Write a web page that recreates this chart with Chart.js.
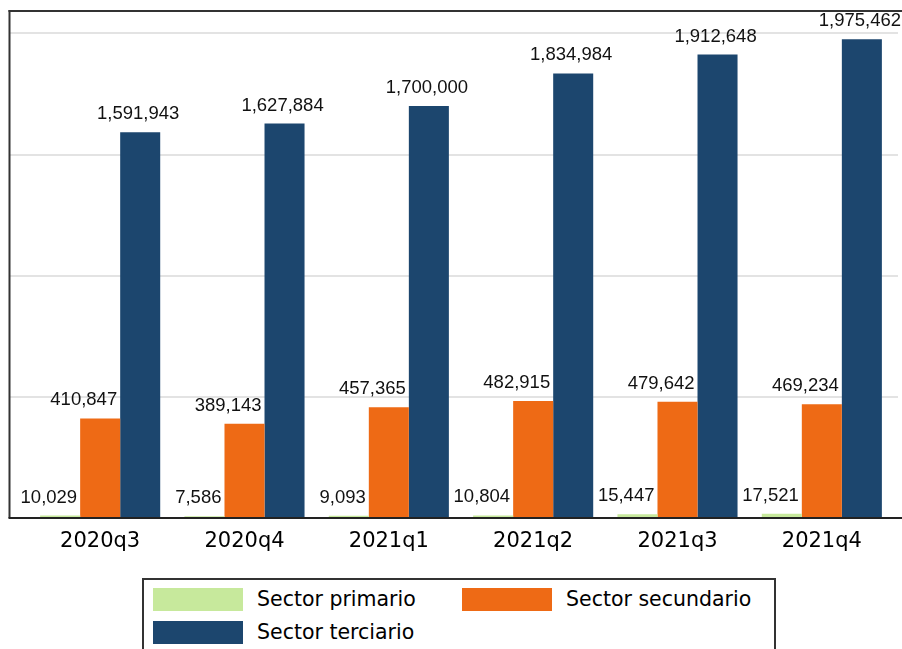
<!DOCTYPE html>
<html>
<head>
<meta charset="utf-8">
<script src="https://cdn.jsdelivr.net/npm/chart.js@4/dist/chart.umd.min.js"></script>
<style>
html,body{margin:0;padding:0;background:#fff;}
#wrap{position:relative;width:902px;height:649px;overflow:hidden;background:#fff;}
#c{position:absolute;left:0;top:0;}
#legend{position:absolute;left:142px;top:578px;width:634px;height:100px;border:2px solid #333;box-sizing:border-box;}
.item{position:absolute;height:23px;}
.sw{position:absolute;left:0;top:0;width:90px;height:23px;}
.lb{position:absolute;left:104px;top:0;white-space:nowrap;line-height:23px;font-family:"DejaVu Sans",sans-serif;font-size:20.5px;color:#000;}
</style>
</head>
<body>
<div id="wrap">
<canvas id="c" width="902" height="560"></canvas>
<div id="legend"></div>
</div>
<script>
// ---- data ----
const categories = ['2020q3', '2020q4', '2021q1', '2021q2', '2021q3', '2021q4'];
const seriesNames = ['Sector primario', 'Sector secundario', 'Sector terciario'];
const primario   = [10029, 7586, 9093, 10804, 15447, 17521];
const secundario = [410847, 389143, 457365, 482915, 479642, 469234];
const terciario  = [1591943, 1627884, 1700000, 1834984, 1912648, 1975462];
const yTicks = [500000, 1000000, 1500000, 2000000];

// ---- styles ----
const colors = ['#c7e99c', '#ee6a15', '#1c466e'];
const labelAligns = ['right', 'right', 'center'];
const legendPos = [[9, 8], [318, 8], [9, 41]];

const framePlugin = {
  id: 'frame',
  beforeDatasetsDraw(chart) {
    const ctx = chart.ctx, y = chart.scales.y, a = chart.chartArea;
    ctx.save();
    ctx.strokeStyle = '#e3e3e3';
    ctx.lineWidth = 2;
    yTicks.forEach(v => {
      const py = Math.round(y.getPixelForValue(v));
      ctx.beginPath(); ctx.moveTo(10, py); ctx.lineTo(898, py); ctx.stroke();
    });
    ctx.strokeStyle = '#333';
    ctx.lineWidth = 2;
    ctx.beginPath(); ctx.moveTo(9.5, a.top - 1); ctx.lineTo(9.5, a.bottom); ctx.stroke();
    ctx.beginPath(); ctx.moveTo(8.5, a.top); ctx.lineTo(902, a.top); ctx.stroke();
    ctx.restore();
  },
  afterDatasetsDraw(chart) {
    const ctx = chart.ctx, a = chart.chartArea;
    ctx.save();
    ctx.strokeStyle = '#222';
    ctx.lineWidth = 2;
    ctx.beginPath(); ctx.moveTo(8.5, a.bottom); ctx.lineTo(902, a.bottom); ctx.stroke();
    // value labels
    ctx.fillStyle = '#111';
    ctx.font = '18.5px "Liberation Sans", Arial, sans-serif';
    ctx.textBaseline = 'alphabetic';
    chart.data.datasets.forEach((ds, di) => {
      const meta = chart.getDatasetMeta(di);
      meta.data.forEach((bar, i) => {
        const txt = ds.data[i].toLocaleString('en-US');
        const w = bar.width;
        let x;
        if (ds.labelAlign === 'right') { ctx.textAlign = 'right'; x = bar.x + w / 2 - 3; }
        else { ctx.textAlign = 'center'; x = bar.x - 2; }
        ctx.fillText(txt, x, bar.y - 13);
      });
    });
    ctx.restore();
  }
};

const seriesData = [primario, secundario, terciario];
const datasets = seriesData.map((d, i) => ({
  label: seriesNames[i],
  data: d,
  backgroundColor: colors[i],
  borderWidth: 0,
  barPercentage: 1,
  categoryPercentage: 0.832,
  labelAlign: labelAligns[i]
}));

new Chart(document.getElementById('c'), {
  type: 'bar',
  data: { labels: categories, datasets },
  options: {
    responsive: false,
    animation: false,
    layout: { padding: { left: 28, right: 8, top: 11, bottom: 0 } },
    plugins: { legend: { display: false }, tooltip: { enabled: false } },
    scales: {
      x: {
        grid: { display: false, drawTicks: false },
        border: { display: false },
        ticks: { color: '#000', font: { family: "'DejaVu Sans', sans-serif", size: 21 }, padding: 11, maxRotation: 0, autoSkip: false },
        afterFit(s) { s.height = 42; }
      },
      y: { display: false, min: 0, max: 2092500 }
    }
  },
  plugins: [framePlugin]
});

// HTML legend (built from the series names / colours)
const lg = document.getElementById('legend');
seriesNames.forEach((n, i) => {
  const it = document.createElement('div');
  it.className = 'item';
  it.style.left = legendPos[i][0] + 'px';
  it.style.top = legendPos[i][1] + 'px';
  const sw = document.createElement('div');
  sw.className = 'sw';
  sw.style.background = colors[i];
  const lb = document.createElement('div');
  lb.className = 'lb';
  lb.textContent = n;
  it.appendChild(sw); it.appendChild(lb);
  lg.appendChild(it);
});
</script>
</body>
</html>
